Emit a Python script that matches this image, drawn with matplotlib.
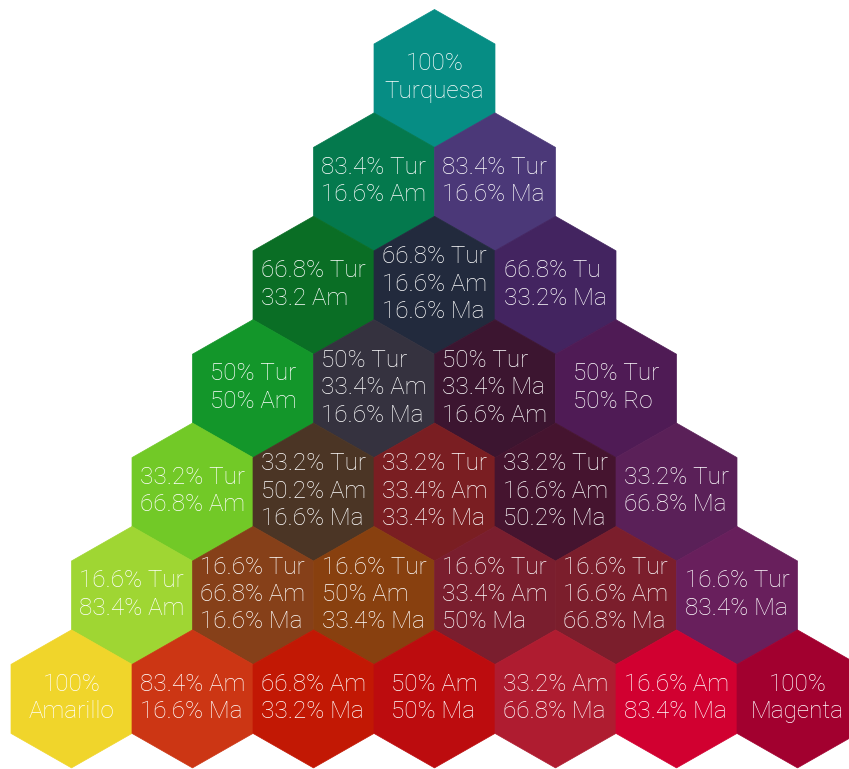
import matplotlib
matplotlib.use("Agg")
import matplotlib.pyplot as plt
from matplotlib.patches import Polygon

# Colour mixes of Turquesa / Amarillo / Magenta, one list per row (top to bottom)
row_labels = [
    ["100%\nTurquesa"],
    ["83.4% Tur\n16.6% Am", "83.4% Tur\n16.6% Ma"],
    ["66.8% Tur\n33.2 Am", "66.8% Tur\n16.6% Am\n16.6% Ma", "66.8% Tu\n33.2% Ma"],
    ["50% Tur\n50% Am", "50% Tur\n33.4% Am\n16.6% Ma", "50% Tur\n33.4% Ma\n16.6% Am", "50% Tur\n50% Ro"],
    ["33.2% Tur\n66.8% Am", "33.2% Tur\n50.2% Am\n16.6% Ma", "33.2% Tur\n33.4% Am\n33.4% Ma",
     "33.2% Tur\n16.6% Am\n50.2% Ma", "33.2% Tur\n66.8% Ma"],
    ["16.6% Tur\n83.4% Am", "16.6% Tur\n66.8% Am\n16.6% Ma", "16.6% Tur\n50% Am\n33.4% Ma",
     "16.6% Tur\n33.4% Am\n50% Ma", "16.6% Tur\n16.6% Am\n66.8% Ma", "16.6% Tur\n83.4% Ma"],
    ["100%\nAmarillo", "83.4% Am\n16.6% Ma", "66.8% Am\n33.2% Ma", "50% Am\n50% Ma",
     "33.2% Am\n66.8% Ma", "16.6% Am\n83.4% Ma", "100%\nMagenta"],
]

row_colors = [
    ["#068D84"],
    ["#04794D", "#4B3878"],
    ["#0A6E25", "#222A3D", "#432460"],
    ["#13962A", "#35323F", "#3C1530", "#4F1B55"],
    ["#72C927", "#4B3525", "#7A1E22", "#45142F", "#5A2058"],
    ["#9FD633", "#864019", "#88400F", "#7A1E2E", "#7B1E2C", "#681F5C"],
    ["#F0D52B", "#CC3614", "#C21804", "#BC0C0E", "#AF1C30", "#D10030", "#A2002F"],
]

# layout in pixel units
W, H = 849, 769
cx0, cy0 = 434.5, 78.5     # centre of the top hexagon
dx, dy = 121.0, 103.4      # column / row spacing
hw, R = 60.5, 69.0         # half width, vertical radius

fig = plt.figure(figsize=(W / 100, H / 100), dpi=100)
ax = fig.add_axes([0, 0, 1, 1])
ax.set_xlim(0, W)
ax.set_ylim(H, 0)
ax.axis("off")


def hexagon(cx, cy):
    """ pointy-top hexagon vertices """
    return [(cx, cy - R), (cx + hw, cy - R / 2), (cx + hw, cy + R / 2),
            (cx, cy + R), (cx - hw, cy + R / 2), (cx - hw, cy - R / 2)]


for r, (labels, colors) in enumerate(zip(row_labels, row_colors)):
    for c, (lab, col) in enumerate(zip(labels, colors)):
        cx = cx0 + (c - r / 2) * dx
        cy = cy0 + r * dy
        ax.add_patch(Polygon(hexagon(cx, cy), closed=True, facecolor=col,
                             edgecolor=col, linewidth=0.5))
        align = "center" if lab.startswith("100%") else "left"
        ax.text(cx, cy - 1, lab, ha="center", va="center", multialignment=align,
                color="white", fontsize=17.5, family="Roboto",
                fontweight="light", linespacing=1.25)

fig.savefig("out.png", dpi=100)
